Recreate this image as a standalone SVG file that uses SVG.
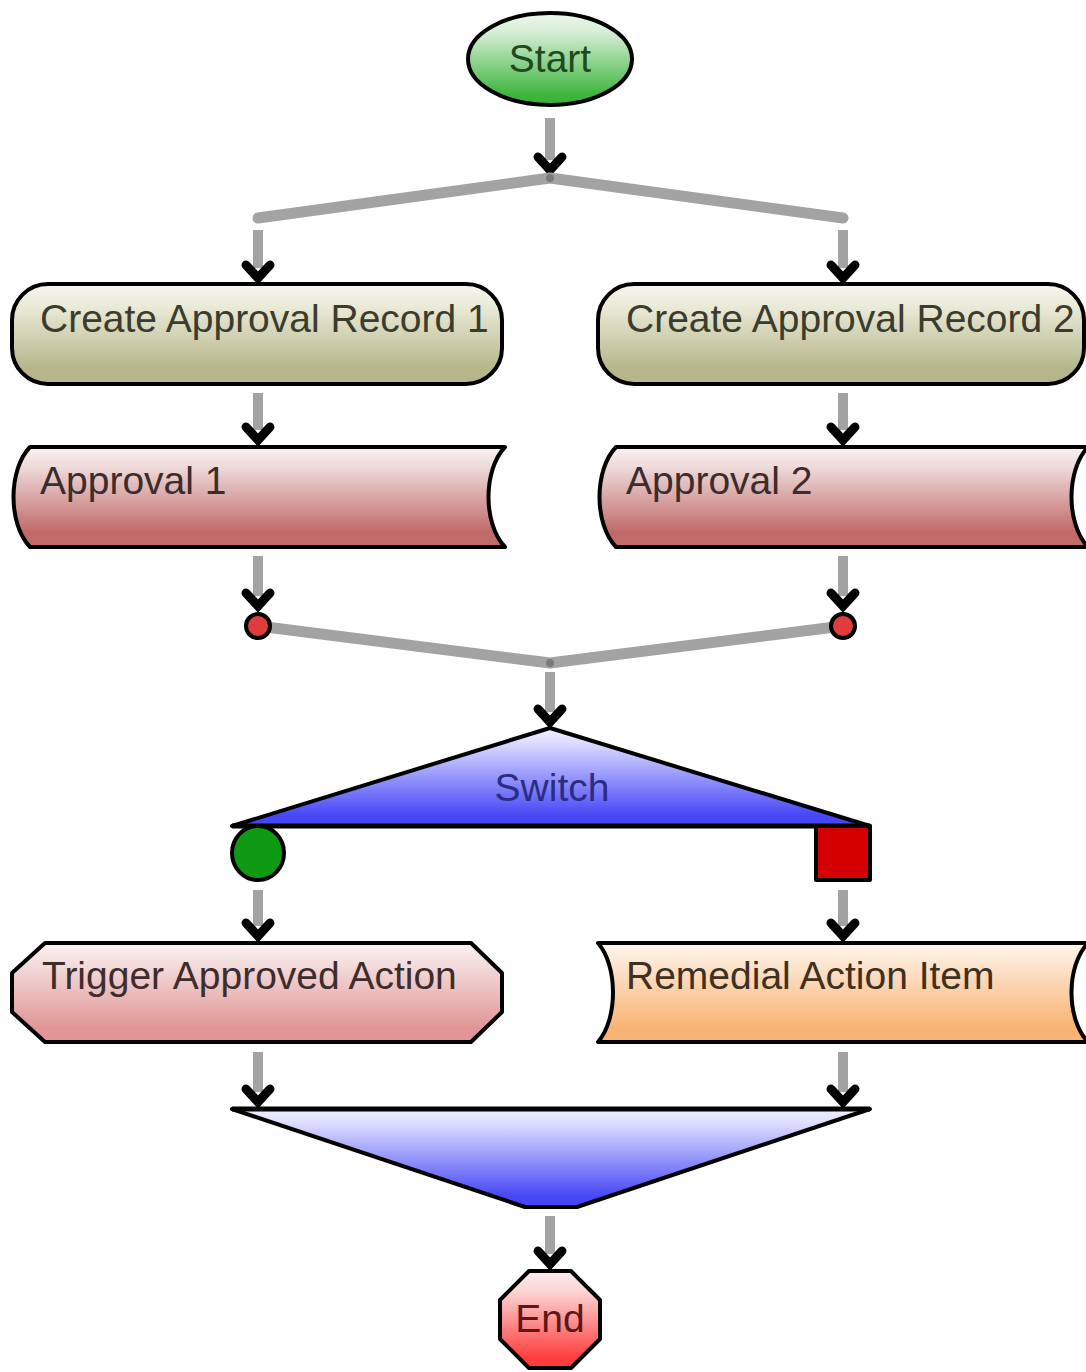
<svg xmlns="http://www.w3.org/2000/svg" width="1086" height="1372" viewBox="0 0 1086 1372">
<style>
  .node { stroke: #000; stroke-width: 4; stroke-linejoin: round; }
  .lbl { font-family: "Liberation Sans", Arial, sans-serif; font-size: 39px; }
  .conn { stroke: #a3a3a3; stroke-width: 10; fill: none; }
  .arrow { marker-end: url(#chev); }
  .bar { stroke: #a3a3a3; stroke-width: 11; fill: none; stroke-linecap: round; stroke-linejoin: round; }
  .jdot { fill: #7a7a7a; }
  .rdot { fill: #e03c3c; stroke: #000; stroke-width: 4; }
</style>
<defs>
  <marker id="chev" markerUnits="userSpaceOnUse" orient="auto" refX="0" refY="0" markerWidth="40" markerHeight="40" overflow="visible">
    <path d="M-3,-12 L10,0 L-3,12" fill="none" stroke="#000" stroke-width="9" stroke-linejoin="miter" stroke-miterlimit="4" stroke-linecap="round"/>
  </marker>
  <linearGradient id="gGreen" x1="0" y1="0" x2="0" y2="1">
    <stop offset="0" stop-color="#eef7ee"/><stop offset="0.2" stop-color="#d8eed8"/><stop offset="0.9" stop-color="#3cb43c"/>
  </linearGradient>
  <linearGradient id="gOlive" x1="0" y1="0" x2="0" y2="1">
    <stop offset="0" stop-color="#f6f6ee"/><stop offset="0.2" stop-color="#ececdc"/><stop offset="0.85" stop-color="#b6b68a"/>
  </linearGradient>
  <linearGradient id="gRose" x1="0" y1="0" x2="0" y2="1">
    <stop offset="0" stop-color="#faf2f2"/><stop offset="0.2" stop-color="#eedada"/><stop offset="0.85" stop-color="#c06a6a"/>
  </linearGradient>
  <linearGradient id="gBlue" x1="0" y1="0" x2="0" y2="1">
    <stop offset="0" stop-color="#f0f0ff"/><stop offset="0.15" stop-color="#dcdcff"/><stop offset="0.9" stop-color="#4646f6"/>
  </linearGradient>
  <linearGradient id="gPink" x1="0" y1="0" x2="0" y2="1">
    <stop offset="0" stop-color="#fcf2f2"/><stop offset="0.2" stop-color="#f4dede"/><stop offset="0.85" stop-color="#e09696"/>
  </linearGradient>
  <linearGradient id="gOrange" x1="0" y1="0" x2="0" y2="1">
    <stop offset="0" stop-color="#fff6ee"/><stop offset="0.2" stop-color="#fde6d2"/><stop offset="0.85" stop-color="#f8b474"/>
  </linearGradient>
  <linearGradient id="gRed" x1="0" y1="0" x2="0" y2="1">
    <stop offset="0" stop-color="#ffecec"/><stop offset="0.2" stop-color="#fcd6d6"/><stop offset="0.9" stop-color="#ff3c3c"/>
  </linearGradient>
</defs>
<rect width="1086" height="1372" fill="#fff"/>

<g id="connectors">
  <line class="conn arrow" x1="550" y1="118" x2="550" y2="160"/>
  <polyline class="bar" points="258,218 550,178 843,218"/>
  <circle class="jdot" cx="550" cy="178" r="4"/>
  <line class="conn arrow" x1="258" y1="230" x2="258" y2="268"/>
  <line class="conn arrow" x1="843" y1="230" x2="843" y2="268"/>
  <line class="conn arrow" x1="258" y1="393" x2="258" y2="430"/>
  <line class="conn arrow" x1="843" y1="393" x2="843" y2="430"/>
  <line class="conn arrow" x1="258" y1="556" x2="258" y2="596"/>
  <line class="conn arrow" x1="843" y1="556" x2="843" y2="596"/>
  <polyline class="bar" points="258,626 550,663 843,626"/>
  <circle class="rdot" cx="258" cy="626" r="12"/>
  <circle class="rdot" cx="843" cy="626" r="12"/>
  <circle class="jdot" cx="550" cy="663" r="4"/>
  <line class="conn arrow" x1="550" y1="672" x2="550" y2="712"/>
  <line class="conn arrow" x1="258" y1="890" x2="258" y2="926"/>
  <line class="conn arrow" x1="843" y1="890" x2="843" y2="926"/>
  <line class="conn arrow" x1="258" y1="1052" x2="258" y2="1092"/>
  <line class="conn arrow" x1="843" y1="1052" x2="843" y2="1092"/>
  <line class="conn arrow" x1="550" y1="1216" x2="550" y2="1254"/>
</g>

<g id="start">
  <ellipse class="node" cx="550" cy="59" rx="82" ry="46" fill="url(#gGreen)"/>
  <text class="lbl" x="550" y="72" text-anchor="middle" fill="#1e4a1e">Start</text>
</g>

<g id="create1">
  <rect class="node" x="12" y="284" width="490" height="100" rx="36" fill="url(#gOlive)"/>
  <text class="lbl" x="40" y="332" fill="#3c3c2c">Create Approval Record 1</text>
</g>

<g id="create2">
  <rect class="node" x="598" y="284" width="486" height="100" rx="36" fill="url(#gOlive)"/>
  <text class="lbl" x="626" y="332" fill="#3c3c2c">Create Approval Record 2</text>
</g>

<g id="approval1">
  <path class="node" d="M30,447 L505,447 C483,470 483,524 505,547 L30,547 C8,524 8,470 30,447 Z" fill="url(#gRose)"/>
  <text class="lbl" x="40" y="494" fill="#3c2c2c">Approval 1</text>
</g>

<g id="approval2">
  <path class="node" d="M616,447 L1088,447 C1066,470 1066,524 1088,547 L616,547 C594,524 594,470 616,447 Z" fill="url(#gRose)"/>
  <text class="lbl" x="626" y="494" fill="#3c2c2c">Approval 2</text>
</g>

<g id="switch">
  <path class="node" d="M550,728 L870,826 L232,826 Z" fill="url(#gBlue)"/>
  <line x1="232" y1="826" x2="870" y2="826" stroke="#000" stroke-width="5"/>
  <text class="lbl" x="552" y="801" text-anchor="middle" fill="#2c2c84">Switch</text>
  <ellipse class="node" cx="258" cy="853" rx="26" ry="27" fill="#0f9a14"/>
  <rect class="node" x="816" y="826" width="54" height="54" fill="#d40000" stroke-linejoin="miter"/>
</g>

<g id="trigger">
  <path class="node" d="M45,943 L471,943 L502,973 L502,1012 L471,1042 L45,1042 L12,1012 L12,973 Z" fill="url(#gPink)"/>
  <text class="lbl" x="42" y="989" fill="#402c2c">Trigger Approved Action</text>
</g>

<g id="remedial">
  <path class="node" d="M598,943 L1088,943 C1066,966 1066,1019 1088,1042 L598,1042 C618,1019 618,966 598,943 Z" fill="url(#gOrange)"/>
  <text class="lbl" x="626" y="989" fill="#40301e">Remedial Action Item</text>
</g>

<g id="merge">
  <path class="node" d="M232,1109 L870,1109 L577,1207 L525,1207 Z" fill="url(#gBlue)"/>
  <line x1="232" y1="1109" x2="870" y2="1109" stroke="#000" stroke-width="5"/>
</g>

<g id="end">
  <path class="node" d="M529,1271 L571,1271 L600,1300 L600,1339 L571,1368 L529,1368 L500,1339 L500,1300 Z" fill="url(#gRed)"/>
  <text class="lbl" x="550" y="1332" text-anchor="middle" fill="#5e1616">End</text>
</g>
</svg>
